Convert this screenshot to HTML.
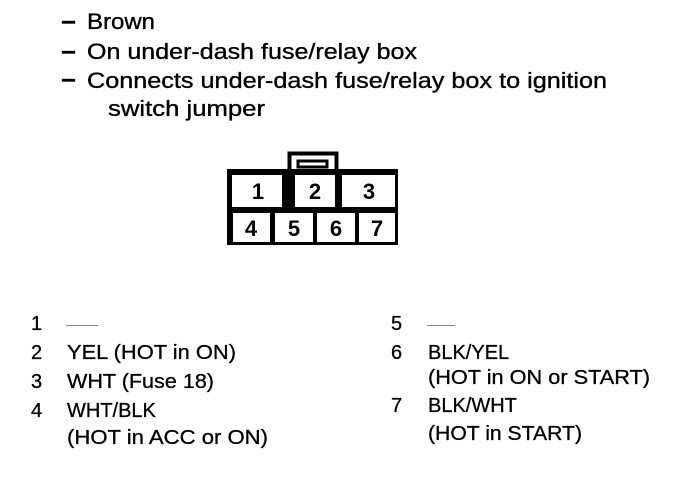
<!DOCTYPE html>
<html><head><style>html,body{margin:0;padding:0;background:#fff}</style></head>
<body>
<svg width="688" height="482" xmlns="http://www.w3.org/2000/svg" style="display:block">
<g font-family="Liberation Sans, Arial, sans-serif" fill="#000" stroke="#000" stroke-width="0.35">
<g font-size="22">
<rect x="62" y="21" width="13" height="2.5"/>
<text x="87" y="29" textLength="68" lengthAdjust="spacingAndGlyphs">Brown</text>
<rect x="62" y="51" width="13" height="2.5"/>
<text x="87" y="59" textLength="330" lengthAdjust="spacingAndGlyphs">On under-dash fuse/relay box</text>
<rect x="62" y="79" width="13" height="2.5"/>
<text x="87" y="88" textLength="520" lengthAdjust="spacingAndGlyphs">Connects under-dash fuse/relay box to ignition</text>
<text x="108" y="116" textLength="157" lengthAdjust="spacingAndGlyphs">switch jumper</text>
</g>
</g>
<rect x="289.5" y="153.5" width="47" height="20" fill="none" stroke="#000" stroke-width="4"/>
<rect x="298" y="161" width="29" height="6" fill="none" stroke="#000" stroke-width="3"/>
<rect x="227" y="169" width="171" height="76" fill="#000"/>
<rect x="232" y="175" width="50" height="32" fill="#fff"/>
<rect x="295" y="175" width="40" height="32" fill="#fff"/>
<rect x="342" y="175" width="53" height="32" fill="#fff"/>
<rect x="233" y="213" width="37" height="29" fill="#fff"/>
<rect x="275" y="213" width="38" height="29" fill="#fff"/>
<rect x="317" y="213" width="38" height="29" fill="#fff"/>
<rect x="359" y="213" width="36" height="29" fill="#fff"/>
<g font-family="Liberation Sans, Arial, sans-serif" font-size="22" font-weight="bold" text-anchor="middle" fill="#000">
<text x="258" y="199">1</text>
<text x="315" y="199">2</text>
<text x="369" y="199">3</text>
<text x="251" y="236">4</text>
<text x="294" y="236">5</text>
<text x="336" y="236">6</text>
<text x="377" y="236">7</text>
</g>
<g font-family="Liberation Sans, Arial, sans-serif" fill="#000" stroke="#000" stroke-width="0.3" font-size="20">
<text x="31" y="330">1</text>
<text x="31" y="359">2</text><text x="67" y="359" textLength="169" lengthAdjust="spacingAndGlyphs">YEL (HOT in ON)</text>
<text x="31" y="388">3</text><text x="67" y="388" textLength="147" lengthAdjust="spacingAndGlyphs">WHT (Fuse 18)</text>
<text x="31" y="417">4</text><text x="67" y="417">WHT/BLK</text>
<text x="67" y="444" textLength="201" lengthAdjust="spacingAndGlyphs">(HOT in ACC or ON)</text>
<text x="391" y="330">5</text>
<text x="391" y="359">6</text><text x="428" y="359">BLK/YEL</text>
<text x="428" y="384" textLength="222" lengthAdjust="spacingAndGlyphs">(HOT in ON or START)</text>
<text x="391" y="412">7</text><text x="428" y="412">BLK/WHT</text>
<text x="428" y="440" textLength="154" lengthAdjust="spacingAndGlyphs">(HOT in START)</text>
</g>
<rect x="66" y="325" width="32" height="1" fill="#888"/>
<rect x="427" y="325" width="28" height="1" fill="#888"/>
</svg>
</body></html>
